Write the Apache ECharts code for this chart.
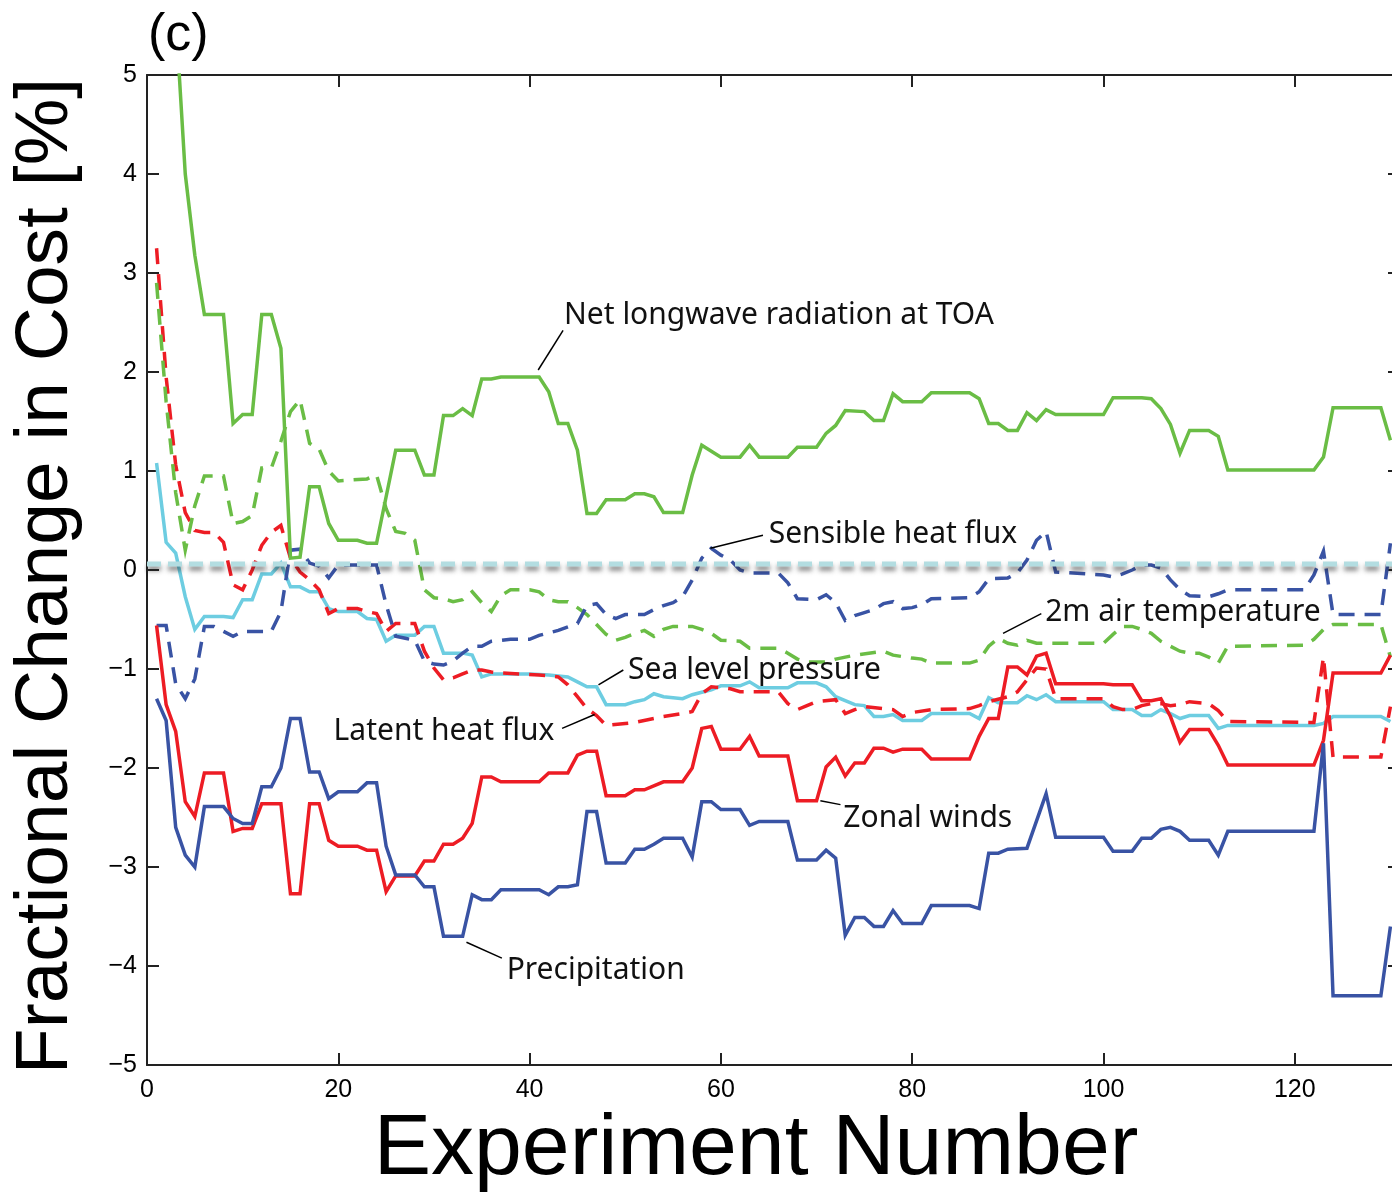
<!DOCTYPE html>
<html>
<head>
<meta charset="utf-8">
<script src="https://cdn.jsdelivr.net/npm/echarts@6/dist/echarts.min.js"></script>
<style>
  html, body { margin: 0; padding: 0; background: #fff; overflow: hidden; }
  #chart { width: 1402px; height: 1199px; }
</style>
</head>
<body>
<div id="chart"></div>
<script>
// Fractional change in cost per observation type, by experiment number
const xTicks = [0, 20, 40, 60, 80, 100, 120];
const yTicks = [-5, -4, -3, -2, -1, 0, 1, 2, 3, 4, 5];

const netLongwave = [[1,8.2],[2,6.9],[3,5.6],[4,4.0],[5,3.18],[6,2.58],[7,2.58],[8,2.58],[9,1.48],[10,1.57],[11,1.57],[12,2.58],[13,2.58],[14,2.24],[15,0.12],[16,0.13],[17,0.84],[18,0.84],[19,0.47],[20,0.30],[21,0.30],[22,0.30],[23,0.27],[24,0.27],[26,1.21],[27,1.21],[28,1.21],[29,0.96],[30,0.96],[31,1.56],[32,1.56],[33,1.63],[34,1.56],[35,1.93],[36,1.93],[37,1.95],[41,1.95],[42,1.80],[43,1.48],[44,1.48],[45,1.21],[46,0.57],[47,0.57],[48,0.71],[50,0.71],[51,0.77],[52,0.77],[53,0.74],[54,0.58],[56,0.58],[57,0.96],[58,1.26],[60,1.14],[62,1.14],[63,1.26],[64,1.14],[67,1.14],[68,1.24],[70,1.24],[71,1.38],[72,1.46],[73,1.61],[75,1.60],[76,1.51],[77,1.51],[78,1.78],[79,1.70],[81,1.70],[82,1.79],[86,1.79],[87,1.73],[88,1.48],[89,1.48],[90,1.41],[91,1.41],[92,1.59],[93,1.51],[94,1.62],[95,1.57],[100,1.57],[101,1.74],[104,1.74],[105,1.73],[106,1.63],[107,1.47],[108,1.18],[109,1.41],[111,1.41],[112,1.35],[113,1.01],[122,1.01],[123,1.14],[124,1.64],[129,1.64],[130,1.31]];

const airTemp2m = [[1,2.9],[2,1.7],[3,0.78],[4,0.2],[5,0.65],[6,0.95],[8,0.95],[9,0.47],[10,0.49],[11,0.55],[12,1.03],[13,1.03],[14,1.3],[15,1.6],[16,1.72],[17,1.28],[18,1.22],[19,1.0],[20,0.9],[23,0.92],[24,0.96],[25,0.62],[26,0.39],[27,0.37],[28,0.3],[29,-0.2],[30,-0.28],[31,-0.29],[32,-0.32],[33,-0.3],[34,-0.22],[35,-0.33],[36,-0.42],[37,-0.26],[38,-0.2],[40,-0.2],[41,-0.22],[42,-0.3],[43,-0.32],[44,-0.32],[45,-0.38],[46,-0.45],[47,-0.55],[48,-0.65],[49,-0.71],[50,-0.68],[51,-0.64],[52,-0.61],[53,-0.67],[54,-0.6],[55,-0.57],[57,-0.57],[58,-0.6],[59,-0.64],[60,-0.71],[62,-0.72],[63,-0.79],[66,-0.79],[67,-0.84],[68,-0.9],[69,-0.93],[71,-0.93],[72,-0.9],[74,-0.86],[77,-0.82],[78,-0.86],[80,-0.89],[81,-0.9],[82,-0.94],[86,-0.94],[87,-0.91],[88,-0.77],[89,-0.69],[90,-0.74],[91,-0.76],[92,-0.71],[93,-0.74],[100,-0.74],[101,-0.65],[102,-0.57],[103,-0.57],[104,-0.6],[105,-0.64],[106,-0.72],[107,-0.77],[108,-0.82],[109,-0.84],[110,-0.84],[111,-0.88],[112,-0.94],[113,-0.77],[121,-0.76],[122,-0.7],[123,-0.6],[124,-0.55],[129,-0.55],[130,-0.88]];

const sensibleHeat = [[1,-0.56],[2,-0.56],[3,-1.15],[4,-1.30],[5,-1.1],[6,-0.57],[7,-0.57],[8,-0.62],[9,-0.67],[10,-0.62],[13,-0.62],[14,-0.42],[15,0.2],[16,0.21],[17,0.07],[18,0.04],[19,-0.08],[20,0.05],[24,0.05],[25,-0.35],[26,-0.67],[27,-0.69],[28,-0.71],[29,-0.92],[30,-0.95],[31,-0.96],[32,-0.92],[33,-0.84],[34,-0.77],[35,-0.77],[36,-0.72],[38,-0.70],[40,-0.70],[41,-0.66],[43,-0.61],[45,-0.54],[46,-0.36],[47,-0.34],[48,-0.45],[49,-0.49],[50,-0.45],[52,-0.45],[53,-0.40],[54,-0.36],[55,-0.33],[56,-0.27],[57,-0.1],[58,0.12],[59,0.22],[60,0.15],[61,0.10],[62,0.0],[63,-0.03],[66,-0.03],[67,-0.13],[68,-0.29],[70,-0.30],[71,-0.25],[72,-0.33],[73,-0.51],[74,-0.46],[75,-0.43],[76,-0.40],[77,-0.34],[78,-0.32],[79,-0.39],[80,-0.38],[81,-0.35],[82,-0.29],[86,-0.28],[87,-0.22],[88,-0.09],[90,-0.08],[91,-0.03],[92,0.1],[93,0.3],[94,0.39],[95,-0.02],[100,-0.05],[101,-0.07],[102,-0.04],[103,0.0],[104,0.05],[105,0.05],[106,0.02],[107,-0.1],[108,-0.2],[109,-0.26],[111,-0.27],[112,-0.24],[113,-0.2],[121,-0.2],[122,-0.05],[123,0.19],[124,-0.45],[129,-0.45],[130,0.27]];

const precipitation = [[1,-1.30],[2,-1.52],[3,-2.6],[4,-2.88],[5,-3.0],[6,-2.39],[8,-2.39],[9,-2.51],[10,-2.56],[11,-2.56],[12,-2.19],[13,-2.19],[14,-2.0],[15,-1.50],[16,-1.50],[17,-2.04],[18,-2.04],[19,-2.31],[20,-2.24],[22,-2.24],[23,-2.15],[24,-2.15],[25,-2.79],[26,-3.08],[28,-3.08],[29,-3.2],[30,-3.2],[31,-3.70],[33,-3.70],[34,-3.28],[35,-3.33],[36,-3.33],[37,-3.23],[41,-3.23],[42,-3.28],[43,-3.2],[44,-3.2],[45,-3.18],[46,-2.44],[47,-2.44],[48,-2.96],[50,-2.96],[51,-2.82],[52,-2.82],[53,-2.77],[54,-2.71],[56,-2.71],[57,-2.9],[58,-2.34],[59,-2.34],[60,-2.42],[62,-2.42],[63,-2.58],[64,-2.54],[67,-2.54],[68,-2.93],[70,-2.93],[71,-2.83],[72,-2.91],[73,-3.69],[74,-3.51],[75,-3.51],[76,-3.6],[77,-3.6],[78,-3.44],[79,-3.57],[81,-3.57],[82,-3.39],[86,-3.39],[87,-3.42],[88,-2.86],[89,-2.86],[90,-2.82],[92,-2.81],[94,-2.26],[95,-2.70],[100,-2.70],[101,-2.84],[103,-2.84],[104,-2.71],[105,-2.71],[106,-2.62],[107,-2.60],[108,-2.64],[109,-2.73],[111,-2.73],[112,-2.88],[113,-2.64],[122,-2.64],[123,-1.75],[124,-4.30],[129,-4.30],[130,-3.6]];

const zonalWinds = [[1,-0.56],[2,-1.36],[3,-1.63],[4,-2.34],[5,-2.49],[6,-2.05],[8,-2.05],[9,-2.64],[10,-2.61],[11,-2.61],[12,-2.36],[14,-2.36],[15,-3.27],[16,-3.27],[17,-2.36],[18,-2.36],[19,-2.73],[20,-2.79],[22,-2.79],[23,-2.83],[24,-2.83],[25,-3.25],[26,-3.09],[28,-3.09],[29,-2.94],[30,-2.94],[31,-2.77],[32,-2.77],[33,-2.71],[34,-2.56],[35,-2.09],[36,-2.09],[37,-2.14],[41,-2.14],[42,-2.05],[44,-2.05],[45,-1.87],[46,-1.83],[47,-1.83],[48,-2.28],[50,-2.28],[51,-2.22],[52,-2.22],[54,-2.14],[56,-2.14],[57,-2.0],[58,-1.60],[59,-1.58],[60,-1.81],[62,-1.81],[63,-1.68],[64,-1.88],[67,-1.88],[68,-2.33],[70,-2.33],[71,-1.99],[72,-1.89],[73,-2.08],[74,-1.95],[75,-1.95],[76,-1.80],[77,-1.80],[78,-1.84],[79,-1.81],[81,-1.81],[82,-1.91],[86,-1.91],[87,-1.68],[88,-1.50],[89,-1.50],[90,-0.98],[91,-0.98],[92,-1.06],[93,-0.87],[94,-0.84],[95,-1.15],[100,-1.15],[101,-1.16],[103,-1.16],[104,-1.32],[105,-1.32],[106,-1.30],[107,-1.48],[108,-1.74],[109,-1.61],[111,-1.61],[112,-1.77],[113,-1.97],[122,-1.97],[123,-1.72],[124,-1.04],[129,-1.04],[130,-0.86]];

const latentHeat = [[1,3.25],[2,1.95],[3,1.06],[4,0.58],[5,0.4],[6,0.38],[7,0.38],[8,0.28],[9,-0.15],[10,-0.2],[11,0.0],[12,0.25],[13,0.38],[14,0.45],[15,0.12],[16,-0.02],[17,-0.1],[18,-0.2],[19,-0.44],[20,-0.39],[22,-0.39],[23,-0.42],[24,-0.44],[25,-0.62],[26,-0.54],[28,-0.54],[29,-0.82],[30,-0.99],[31,-1.11],[32,-1.09],[33,-1.05],[34,-1.01],[35,-1.01],[36,-1.03],[37,-1.04],[41,-1.06],[43,-1.08],[44,-1.16],[45,-1.28],[46,-1.4],[47,-1.47],[48,-1.57],[50,-1.55],[51,-1.54],[54,-1.48],[56,-1.45],[57,-1.43],[58,-1.25],[59,-1.18],[61,-1.2],[62,-1.23],[66,-1.23],[67,-1.35],[68,-1.41],[69,-1.37],[70,-1.33],[72,-1.31],[73,-1.45],[74,-1.41],[75,-1.38],[77,-1.4],[78,-1.41],[79,-1.48],[80,-1.44],[82,-1.41],[86,-1.40],[87,-1.37],[88,-1.33],[90,-1.28],[91,-1.23],[92,-1.11],[93,-0.99],[94,-1.0],[95,-1.30],[100,-1.30],[101,-1.38],[102,-1.41],[103,-1.41],[104,-1.37],[105,-1.35],[106,-1.35],[107,-1.37],[108,-1.36],[109,-1.33],[111,-1.35],[112,-1.42],[113,-1.53],[122,-1.54],[123,-0.88],[124,-1.89],[129,-1.89],[130,-1.38]];

const seaLevelPressure = [[1,1.08],[2,0.28],[3,0.17],[4,-0.27],[5,-0.6],[6,-0.47],[8,-0.47],[9,-0.48],[10,-0.30],[11,-0.30],[12,-0.04],[13,-0.04],[14,0.07],[15,-0.17],[16,-0.17],[17,-0.22],[18,-0.22],[19,-0.39],[20,-0.42],[22,-0.42],[23,-0.49],[24,-0.50],[25,-0.72],[26,-0.66],[28,-0.66],[29,-0.57],[30,-0.57],[31,-0.84],[33,-0.84],[34,-0.86],[35,-1.08],[36,-1.05],[40,-1.05],[42,-1.06],[44,-1.08],[45,-1.13],[46,-1.18],[47,-1.18],[48,-1.36],[50,-1.36],[51,-1.33],[52,-1.31],[53,-1.25],[54,-1.28],[56,-1.30],[57,-1.26],[59,-1.21],[60,-1.17],[62,-1.17],[63,-1.13],[64,-1.19],[67,-1.19],[68,-1.14],[70,-1.14],[71,-1.18],[72,-1.28],[74,-1.36],[75,-1.37],[76,-1.48],[77,-1.48],[78,-1.46],[79,-1.52],[81,-1.52],[82,-1.45],[86,-1.45],[87,-1.50],[88,-1.29],[89,-1.34],[91,-1.34],[92,-1.27],[93,-1.31],[94,-1.26],[95,-1.33],[100,-1.33],[101,-1.41],[103,-1.41],[104,-1.47],[105,-1.47],[106,-1.41],[107,-1.45],[108,-1.50],[109,-1.47],[111,-1.47],[112,-1.60],[113,-1.57],[122,-1.57],[123,-1.55],[124,-1.48],[129,-1.48],[130,-1.53]];

// Reference level drawn just above zero
const referenceLevel = [[0, 0.06], [131, 0.06]];

const GREEN = '#6abd45', BLUE = '#3953a4', RED = '#ed1c24', CYAN = '#6dcde1';
const TICK_FONT = '"Liberation Sans", Arial, Helvetica, sans-serif';
const NOTE_FONT = '"Noto Sans", "Open Sans", sans-serif';

// Label placement (data coordinates): leader line from -> to, text anchored at "at"
const notes = [
  { text: 'Net longwave radiation at TOA', from: [40.9, 2.02], to: [43.5, 2.42], at: [43.6, 2.57], align: 'left' },
  { text: 'Sensible heat flux', from: [58.9, 0.22], to: [64.4, 0.35], at: [65.0, 0.36], align: 'left' },
  { text: '2m air temperature', from: [89.5, -0.64], to: [93.5, -0.44], at: [93.9, -0.43], align: 'left' },
  { text: 'Sea level pressure', from: [47.2, -1.16], to: [49.8, -1.01], at: [50.3, -1.01], align: 'left' },
  { text: 'Latent heat flux', from: [46.8, -1.46], to: [43.4, -1.60], at: [42.6, -1.63], align: 'right' },
  { text: 'Zonal winds', from: [70.4, -2.33], to: [72.5, -2.37], at: [72.8, -2.51], align: 'left' },
  { text: 'Precipitation', from: [33.4, -3.76], to: [37.1, -3.92], at: [37.6, -4.04], align: 'left' }
];

function fmt(v) { return v < 0 ? '\u2212' + Math.abs(v) : String(v); }

function lineSeries(name, data, color, dashed) {
  return {
    name, type: 'line', data, showSymbol: false, symbol: 'none', clip: true,
    lineStyle: { color, width: 3.5, type: dashed ? [16, 10] : 'solid', cap: 'butt', join: 'miter' },
    z: 3, silent: true
  };
}

const chart = echarts.init(document.getElementById('chart'), null, { renderer: 'canvas' });

const axisLineStyle = { color: '#222', width: 2 };
const option = {
  animation: false,
  backgroundColor: '#ffffff',
  grid: { left: 147, top: 75, width: 1253, height: 990, containLabel: false },
  xAxis: [
    {
      type: 'value', min: 0, max: 131, interval: 20, position: 'bottom',
      axisLine: { show: true, onZero: false, lineStyle: axisLineStyle },
      axisTick: { show: true, inside: true, length: 12, lineStyle: axisLineStyle },
      axisLabel: {
        show: true, margin: 13, fontSize: 25, color: '#000', fontFamily: TICK_FONT,
        showMaxLabel: false, formatter: v => xTicks.includes(v) ? fmt(v) : ''
      },
      splitLine: { show: false }
    },
    {
      type: 'value', min: 0, max: 131, interval: 20, position: 'top',
      axisLine: { show: true, onZero: false, lineStyle: axisLineStyle },
      axisTick: { show: true, inside: true, length: 12, lineStyle: axisLineStyle },
      axisLabel: { show: false },
      splitLine: { show: false }
    }
  ],
  yAxis: [
    {
      type: 'value', min: -5, max: 5, interval: 1, position: 'left',
      axisLine: { show: true, onZero: false, lineStyle: axisLineStyle },
      axisTick: { show: true, inside: true, length: 12, lineStyle: axisLineStyle },
      axisLabel: {
        show: true, margin: 10, fontSize: 25, color: '#000', fontFamily: TICK_FONT,
        formatter: v => yTicks.includes(v) ? fmt(v) : ''
      },
      splitLine: { show: false }
    },
    {
      type: 'value', min: -5, max: 5, interval: 1, position: 'right',
      axisLine: { show: true, onZero: false, lineStyle: axisLineStyle },
      axisTick: { show: true, inside: true, length: 12, lineStyle: axisLineStyle },
      axisLabel: { show: false },
      splitLine: { show: false }
    }
  ],
  series: [
    lineSeries('Sea level pressure', seaLevelPressure, CYAN, false),
    lineSeries('Latent heat flux', latentHeat, RED, true),
    lineSeries('2m air temperature', airTemp2m, GREEN, true),
    lineSeries('Sensible heat flux', sensibleHeat, BLUE, true),
    lineSeries('Zonal winds', zonalWinds, RED, false),
    lineSeries('Precipitation', precipitation, BLUE, false),
    lineSeries('Net longwave radiation at TOA', netLongwave, GREEN, false),
    {
      name: 'reference', type: 'line', data: referenceLevel, showSymbol: false, symbol: 'none',
      silent: true, z: 5,
      lineStyle: {
        color: '#b3dde1', width: 5, type: [14, 7],
        shadowColor: 'rgba(40,40,40,0.6)', shadowBlur: 5, shadowOffsetY: 4
      }
    }
  ],
  graphic: [
    {
      type: 'text', left: 148, top: 10,
      style: { text: '(c)', fontSize: 52, fontFamily: TICK_FONT, fill: '#000' }
    },
    {
      type: 'text', x: 46, y: 576, rotation: Math.PI / 2,
      style: {
        text: 'Fractional Change in Cost [%]', fontSize: 75, fontFamily: TICK_FONT,
        fill: '#000', align: 'center', verticalAlign: 'middle'
      }
    },
    {
      type: 'text', x: 756, y: 1150,
      style: {
        text: 'Experiment Number', fontSize: 86, fontFamily: TICK_FONT,
        fill: '#000', align: 'center', verticalAlign: 'middle'
      }
    }
  ]
};

chart.setOption(option);

// Leader lines and series labels, placed from data coordinates
const toPx = p => chart.convertToPixel({ xAxisIndex: 0, yAxisIndex: 0 }, p);
const noteGraphics = [];
notes.forEach((n, i) => {
  const a = toPx(n.from), b = toPx(n.to), t = toPx(n.at);
  noteGraphics.push({
    type: 'line', id: 'lead' + i, z: 20,
    shape: { x1: a[0], y1: a[1], x2: b[0], y2: b[1] },
    style: { stroke: '#000', lineWidth: 1.5 }
  });
  noteGraphics.push({
    type: 'text', id: 'note' + i, z: 20, x: t[0], y: t[1],
    style: {
      text: n.text, fontSize: 30, fontFamily: NOTE_FONT, fill: '#111',
      align: n.align, verticalAlign: 'middle'
    }
  });
});
chart.setOption({ graphic: noteGraphics });
</script>
</body>
</html>
